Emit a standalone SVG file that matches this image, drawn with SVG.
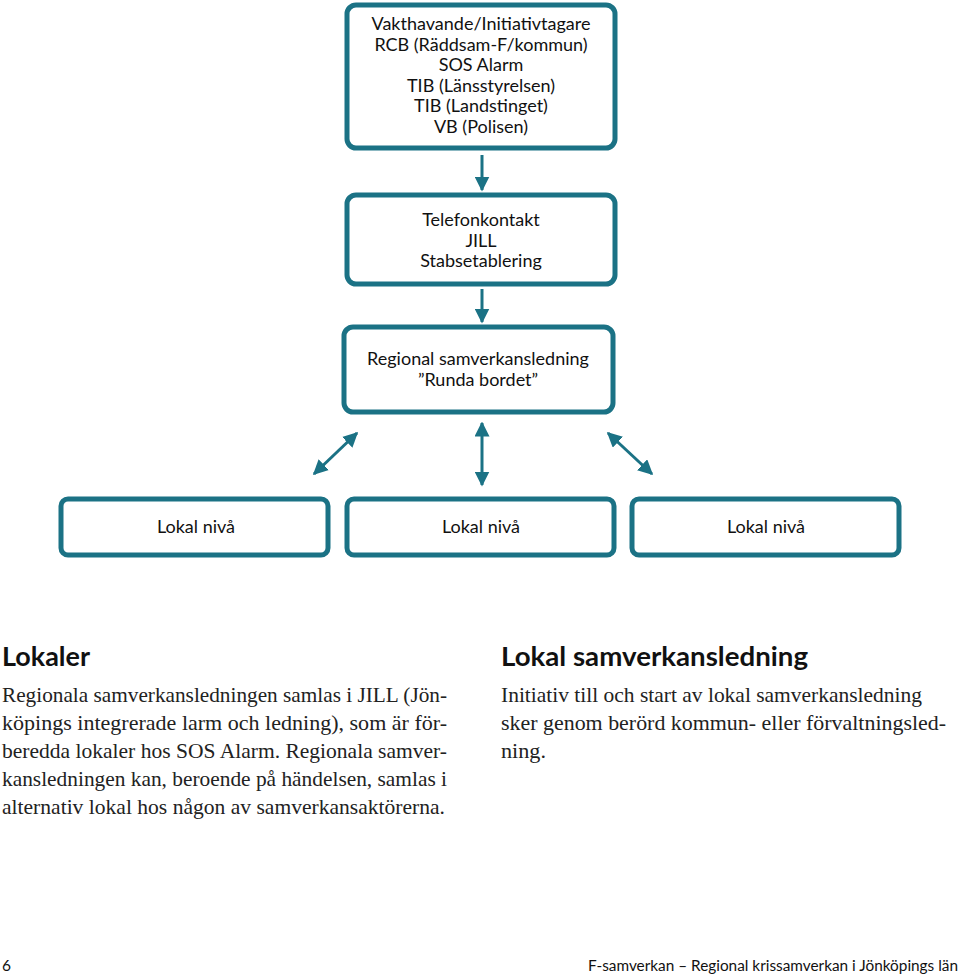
<svg xmlns="http://www.w3.org/2000/svg" width="960" height="975" viewBox="0 0 960 975">
<style>
.box{fill:#fff;stroke:#1b7285;stroke-width:5}
.bt{font-family:Lato,"Noto Sans",sans-serif;font-size:18px;fill:#111;text-anchor:middle}
.h{font-family:Lato,"Noto Sans",sans-serif;font-size:26px;font-weight:bold;fill:#111}
.b{font-family:"Liberation Serif",serif;font-size:21px;fill:#222}
.f{font-family:Lato,"Noto Sans",sans-serif;font-size:15.5px;fill:#111}
.ln{stroke:#1b7285;stroke-width:3;fill:none}
</style>
<defs>
<marker id="ah" viewBox="0 0 10 10" refX="9" refY="5" markerWidth="5" markerHeight="5" orient="auto-start-reverse" markerUnits="strokeWidth">
<path d="M0,0 L10,5 L0,10 z" fill="#1b7285"/>
</marker>
</defs>
<g id="connectors">
<line class="ln" x1="482" y1="155" x2="482" y2="190" marker-end="url(#ah)"/>
<line class="ln" x1="482" y1="289" x2="482" y2="322" marker-end="url(#ah)"/>
<line class="ln" x1="314" y1="474" x2="357" y2="433" marker-start="url(#ah)" marker-end="url(#ah)"/>
<line class="ln" x1="482" y1="423" x2="482" y2="485" marker-start="url(#ah)" marker-end="url(#ah)"/>
<line class="ln" x1="608" y1="433" x2="652" y2="474" marker-start="url(#ah)" marker-end="url(#ah)"/>
</g>
<g id="n1">
<rect class="box" x="347" y="5" width="268" height="143" rx="9"/>
<text class="bt" x="481" y="30">Vakthavande/Initiativtagare</text>
<text class="bt" x="481" y="50.5">RCB (Räddsam-F/kommun)</text>
<text class="bt" x="481" y="71">SOS Alarm</text>
<text class="bt" x="481" y="91.5">TIB (Länsstyrelsen)</text>
<text class="bt" x="481" y="112">TIB (Landstinget)</text>
<text class="bt" x="481" y="132.5">VB (Polisen)</text>
</g>
<g id="n2">
<rect class="box" x="347" y="195" width="268" height="89" rx="9"/>
<text class="bt" x="481" y="226">Telefonkontakt</text>
<text class="bt" x="481" y="246.5">JILL</text>
<text class="bt" x="481" y="267">Stabsetablering</text>
</g>
<g id="n3">
<rect class="box" x="344" y="327" width="269" height="85" rx="9"/>
<text class="bt" x="478" y="365">Regional samverkansledning</text>
<text class="bt" x="478" y="386">”Runda bordet”</text>
</g>
<g id="n4">
<rect class="box" x="61" y="499" width="267" height="56" rx="7"/>
<text class="bt" x="196" y="533">Lokal nivå</text>
</g>
<g id="n5">
<rect class="box" x="347" y="499" width="267" height="56" rx="7"/>
<text class="bt" x="481" y="533">Lokal nivå</text>
</g>
<g id="n6">
<rect class="box" x="632" y="499" width="267" height="56" rx="7"/>
<text class="bt" x="766" y="533">Lokal nivå</text>
</g>
<text class="h" x="2" y="666" textLength="88" lengthAdjust="spacingAndGlyphs">Lokaler</text>
<text class="b" x="2" y="702" textLength="445" lengthAdjust="spacingAndGlyphs">Regionala samverkansledningen samlas i JILL (Jön-</text>
<text class="b" x="2" y="730" textLength="445" lengthAdjust="spacingAndGlyphs">köpings integrerade larm och ledning), som är för-</text>
<text class="b" x="2" y="758" textLength="445" lengthAdjust="spacingAndGlyphs">beredda lokaler hos SOS Alarm. Regionala samver-</text>
<text class="b" x="2" y="786" textLength="445" lengthAdjust="spacingAndGlyphs">kansledningen kan, beroende på händelsen, samlas i</text>
<text class="b" x="2" y="814" textLength="443" lengthAdjust="spacingAndGlyphs">alternativ lokal hos någon av samverkansaktörerna.</text>
<text class="h" x="501" y="666" textLength="307" lengthAdjust="spacingAndGlyphs">Lokal samverkansledning</text>
<text class="b" x="501" y="702" textLength="421" lengthAdjust="spacingAndGlyphs">Initiativ till och start av lokal samverkansledning</text>
<text class="b" x="501" y="730" textLength="445" lengthAdjust="spacingAndGlyphs">sker genom berörd kommun- eller förvaltningsled-</text>
<text class="b" x="501" y="758" textLength="45" lengthAdjust="spacingAndGlyphs">ning.</text>
<text class="f" x="2" y="971">6</text>
<text class="f" x="958" y="971" text-anchor="end" textLength="370" lengthAdjust="spacingAndGlyphs">F-samverkan – Regional krissamverkan i Jönköpings län</text>
</svg>
